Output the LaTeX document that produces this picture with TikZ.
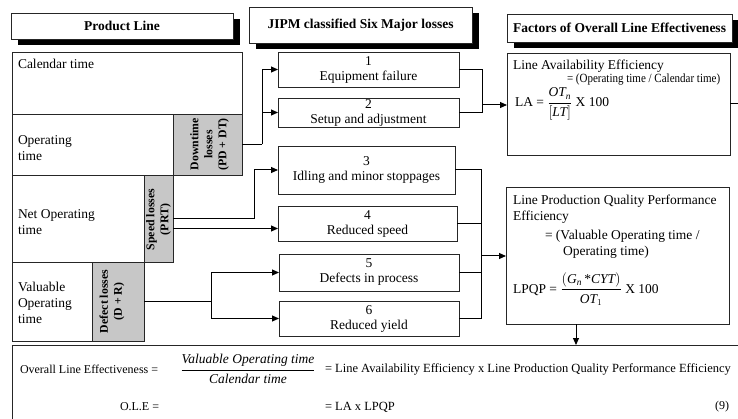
\documentclass[tikz,border=0pt]{standalone}
\usepackage{fontspec}
\usepackage{amsmath}
\usepackage{graphicx}
\setmainfont{Liberation Serif}
\usetikzlibrary{arrows.meta,shadows}

\begin{document}
\begin{tikzpicture}[x=1pt,y=-1pt,
  every node/.style={inner sep=0pt, outer sep=0pt},
  frame/.style={draw=black!85, line width=0.8pt, fill=white, anchor=north west},
  lossbox/.style={draw=black!85, line width=0.8pt, fill=black!22, anchor=north west},
  hdr/.style={draw=black!85, line width=0.8pt, fill=white, anchor=north west,
    drop shadow={shadow xshift=6.5pt, shadow yshift=-6.5pt, opacity=1, fill=black}},
  hdrtext/.style={font=\fontsize{13.5}{16}\selectfont\bfseries},
  txt/.style={font=\fontsize{13.5}{16}\selectfont, align=left},
  lossname/.style={font=\fontsize{13.5}{15}\selectfont, align=center},
  rot/.style={font=\fontsize{11.8}{14}\selectfont\bfseries, rotate=90, align=center},
  bot/.style={font=\fontsize{12}{14}\selectfont},
  wire/.style={draw=black, line width=1pt},
  arr/.style={wire, -{Triangle[length=7pt,width=6pt]}},
]
\clip (0,0) rectangle (738,419);

% column headers
\node[hdr, minimum width=222pt, minimum height=26pt] (hpl) at (11,13) {};
\node[hdrtext] (hplt) at (hpl.center) {Product Line};
\node[hdr, minimum width=223pt, minimum height=36pt] (hji) at (249,7) {};
\node[hdrtext] (hjit) at (hji.center) {JIPM classified Six Major losses};
\node[hdr, minimum width=225pt, minimum height=28pt] (hfa) at (507,14) {};
\node[hdrtext] (hfat) at (hfa.center) {Factors of Overall Line Effectiveness};

% product line time breakdown
\node[frame, minimum width=230pt, minimum height=62pt] (cal) at (12,52) {};
\node[frame, minimum width=161pt, minimum height=61pt] (op) at (12,114) {};
\node[lossbox, minimum width=69pt, minimum height=61pt] (dt) at (173,114) {};
\node[frame, minimum width=132pt, minimum height=87pt] (net) at (12,175) {};
\node[lossbox, minimum width=29pt, minimum height=87pt] (spd) at (144,175) {};
\node[frame, minimum width=80pt, minimum height=79pt] (val) at (12,262) {};
\node[lossbox, minimum width=52pt, minimum height=79pt] (def) at (92,262) {};

\node[txt, anchor=west] (calt) at (18,64) {Calendar time};
\node[txt, anchor=west] (opt) at (18,148) {Operating\\time};
\node[txt, anchor=west] (nett) at (18,222.5) {Net Operating\\time};
\node[txt, anchor=west] (valt) at (18,303) {Valuable\\Operating\\time};
\node[rot] (dtt) at ([xshift=2pt]dt.center) {Downtime\\losses\\(PD + DT)};
\node[rot] (spdt) at ([yshift=-1pt]spd.center) {Speed losses\\(PRT)};
\node[rot] (deft) at ([xshift=-6pt]def.center) {Defect losses\\(D + R)};

% six major losses
\node[frame, lossname, minimum width=181pt, minimum height=35pt] (b1) at (278,52) {1\\Equipment failure};
\node[frame, lossname, minimum width=181pt, minimum height=29pt] (b2) at (278,98) {2\\Setup and adjustment};
\node[frame, lossname, minimum width=177pt, minimum height=48pt] (b3) at (278,146) {3\\Idling and minor stoppages};
\node[frame, lossname, minimum width=179pt, minimum height=35pt] (b4) at (278,206) {4\\Reduced speed};
\node[frame, lossname, minimum width=180pt, minimum height=37pt] (b5) at (279,254) {5\\Defects in process};
\node[frame, lossname, minimum width=180pt, minimum height=35pt] (b6) at (279,301) {6\\Reduced yield};

% effectiveness factors
\node[frame, minimum width=223pt, minimum height=102pt] (la) at (507,53) {};
\node[txt, anchor=west] (la1) at (513,66) {Line Availability Efficiency};
\node[txt, anchor=west] (la2) at (567,80) {\scalebox{0.88}[1]{\fontsize{12.5}{15}\selectfont = (Operating time / Calendar time)}};
\node[txt, anchor=west] (laf) at (515,104) {LA = $\dfrac{\textit{OT}_{\textit{n}}}{[\textit{LT}]}$ X 100};

\node[frame, minimum width=223pt, minimum height=137pt] (lp) at (506,187) {};
\node[txt, anchor=west] (lp1) at (513,201) {Line Production Quality Performance};
\node[txt, anchor=west] (lp2) at (513,217) {Efficiency};
\node[txt, anchor=west] (lp3) at (545,236) {= (Valuable Operating time /};
\node[txt, anchor=west] (lp4) at (563,252) {Operating time)};
\node[txt, anchor=west] (lpf) at (513,289) {LPQP = $\dfrac{(\textit{G}_{\textit{n}}\,\text{*}\textit{CYT})}{\textit{OT}_{1}}$ X 100};

% overall line effectiveness
\node[frame, minimum width=740pt, minimum height=90pt] (ole) at (12,345) {};
\node[bot, anchor=west] (ole1) at (20,369) {Overall Line Effectiveness =};
\node[font=\fontsize{13.5}{16}\selectfont] (olef) at (248,369) {$\dfrac{\textit{Valuable Operating time}}{\textit{Calendar time}}$};
\node[bot, anchor=west, font=\fontsize{12.5}{15}\selectfont] (ole2) at (325,369) {= Line Availability Efficiency x Line Production Quality Performance Efficiency};
\node[bot, anchor=west] (ole3) at (120,407) {O.L.E =};
\node[bot, anchor=west, font=\fontsize{12.5}{15}\selectfont] (ole4) at (325,407) {= LA x LPQP};
\node[bot] (eqno) at (722,407) {(9)};

% connectors: losses feeding the six categories
\draw[wire] (dt.east) -- (262,144.5) coordinate (j1);
\draw[arr] (j1) |- (b1.west);
\draw[arr] (j1 |- b2.west) -- (b2.west);

\draw[arr] (spd.east) -- (254,218.5) |- (b3.west);
\draw[arr] ([yshift=-10pt]spd.east) -- ([yshift=-10pt]spd.east -| b4.west);

\draw[wire] (def.east) -- (211,301.5) coordinate (j3);
\draw[arr] (j3) |- (b5.west);
\draw[arr] (j3) |- (b6.west);

% connectors: categories feeding the factors
\coordinate (j4) at (482,105);
\draw[wire] (b1.east) -| (j4);
\draw[wire] (b2.east) -| (j4);
\draw[arr] (j4) -- (j4 -| la.west);
\coordinate (laout) at (745,104);
\draw[wire] (la.east) -- (laout);

\coordinate (j5) at (481,256);
\draw[wire] (b3.east) -| (j5);
\draw[wire] (b4.east) -| (j5);
\draw[wire] (b5.east) -| (j5);
\draw[wire] (b6.east) -| (j5);
\draw[arr] (j5) -- (j5 -| lp.west);

\coordinate (dx) at (576,0);
\draw[arr] (lp.south -| dx) -- (ole.north -| dx);
\end{tikzpicture}
\end{document}
